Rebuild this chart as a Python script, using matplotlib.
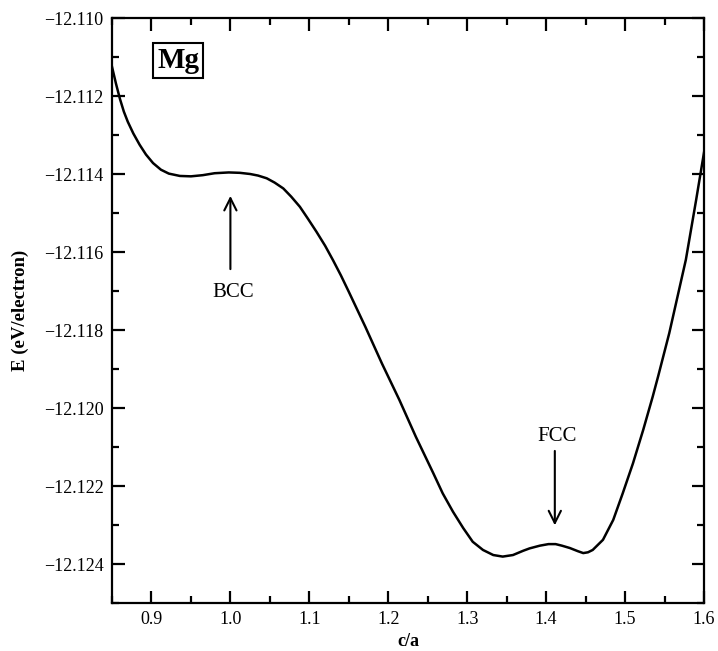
import matplotlib
matplotlib.use("Agg")
import matplotlib.pyplot as plt
from matplotlib.ticker import MultipleLocator, FuncFormatter

# Data
ca = [0.850, 0.855, 0.860, 0.865, 0.870, 0.877, 0.885, 0.893, 0.902, 0.912,
      0.922, 0.936, 0.950, 0.965, 0.980, 0.998, 1.012, 1.025, 1.035, 1.046,
      1.056, 1.067, 1.077, 1.088, 1.098, 1.109, 1.120, 1.130, 1.140, 1.150,
      1.171, 1.192, 1.214, 1.235, 1.257, 1.269, 1.282, 1.295, 1.307, 1.320,
      1.333, 1.345, 1.358, 1.371, 1.379, 1.392, 1.403, 1.412, 1.420, 1.430,
      1.440, 1.447, 1.453, 1.459, 1.472, 1.485, 1.497, 1.510, 1.523, 1.535,
      1.542, 1.556, 1.577, 1.590, 1.600]
energy = [-12.11125, -12.11168, -12.11207, -12.11240, -12.11266, -12.11296, -12.11325,
          -12.11350, -12.11372, -12.11389, -12.11399, -12.11405, -12.11406, -12.11403,
          -12.11398, -12.11396, -12.11397, -12.11400, -12.11404, -12.11411, -12.11422,
          -12.11437, -12.11458, -12.11484, -12.11514, -12.11548, -12.11584, -12.11621,
          -12.11660, -12.11702, -12.11792, -12.11886, -12.11979, -12.12074, -12.12167,
          -12.12219, -12.12266, -12.12308, -12.12343, -12.12364, -12.12377, -12.12381,
          -12.12377, -12.12366, -12.12360, -12.12353, -12.12349, -12.12349, -12.12353,
          -12.12359, -12.12367, -12.12372, -12.12370, -12.12364, -12.12338, -12.12287,
          -12.12219, -12.12142, -12.12056, -12.11971, -12.11918, -12.11808, -12.11620,
          -12.11467, -12.11345]

bcc_x, bcc_tip, bcc_tail, bcc_text_y = 1.0, -12.11449, -12.11651, -12.11703
fcc_x, fcc_tip, fcc_tail, fcc_text_y = 1.411, -12.12308, -12.12103, -12.12074

serif = "Liberation Serif"
plt.rcParams['font.family'] = serif

fig = plt.figure(figsize=(7.18, 6.51), dpi=100)
ax = fig.add_axes([112/718, 48/651, 592/718, 585/651])

ax.plot(ca, energy, color="black", lw=1.8, solid_joinstyle="round")

ax.set_xlim(0.85, 1.6)
ax.set_ylim(-12.125, -12.110)
ax.xaxis.set_major_locator(MultipleLocator(0.1))
ax.xaxis.set_minor_locator(MultipleLocator(0.05))
ax.yaxis.set_major_locator(MultipleLocator(0.002))
ax.yaxis.set_minor_locator(MultipleLocator(0.001))
ax.xaxis.set_major_formatter(FuncFormatter(lambda v, p: f"{v:.1f}"))
ax.yaxis.set_major_formatter(FuncFormatter(lambda v, p: f"{v:.3f}".replace("-", "\u2212")))

ax.tick_params(which="both", direction="in", top=True, right=True, width=1.6, labelsize=13)
ax.tick_params(which="major", length=9)
ax.tick_params(which="minor", length=5)
ax.tick_params(axis="y", pad=6)
ax.tick_params(axis="x", pad=6)
for s in ax.spines.values():
    s.set_linewidth(1.6)

ax.set_xlabel("c/a", fontsize=13, fontweight="bold", labelpad=3)
ax.set_ylabel("E (eV/electron)", fontsize=13.5, fontweight="bold", labelpad=11)

ax.annotate("", xy=(bcc_x, bcc_tip), xytext=(bcc_x, bcc_tail),
            arrowprops=dict(arrowstyle="->", color="black", lw=1.5, mutation_scale=22))
ax.text(bcc_x + 0.003, bcc_text_y, "BCC", fontsize=15, ha="center", va="center")

ax.annotate("", xy=(fcc_x, fcc_tip), xytext=(fcc_x, fcc_tail),
            arrowprops=dict(arrowstyle="->", color="black", lw=1.5, mutation_scale=22))
ax.text(fcc_x + 0.003, fcc_text_y, "FCC", fontsize=15, ha="center", va="center")

ax.text(0.934, -12.1111, "Mg", fontsize=21, fontweight="bold", ha="center", va="center",
        bbox=dict(boxstyle="square,pad=0.14", fc="white", ec="black", lw=1.5))

fig.savefig("out.png", dpi=100)
